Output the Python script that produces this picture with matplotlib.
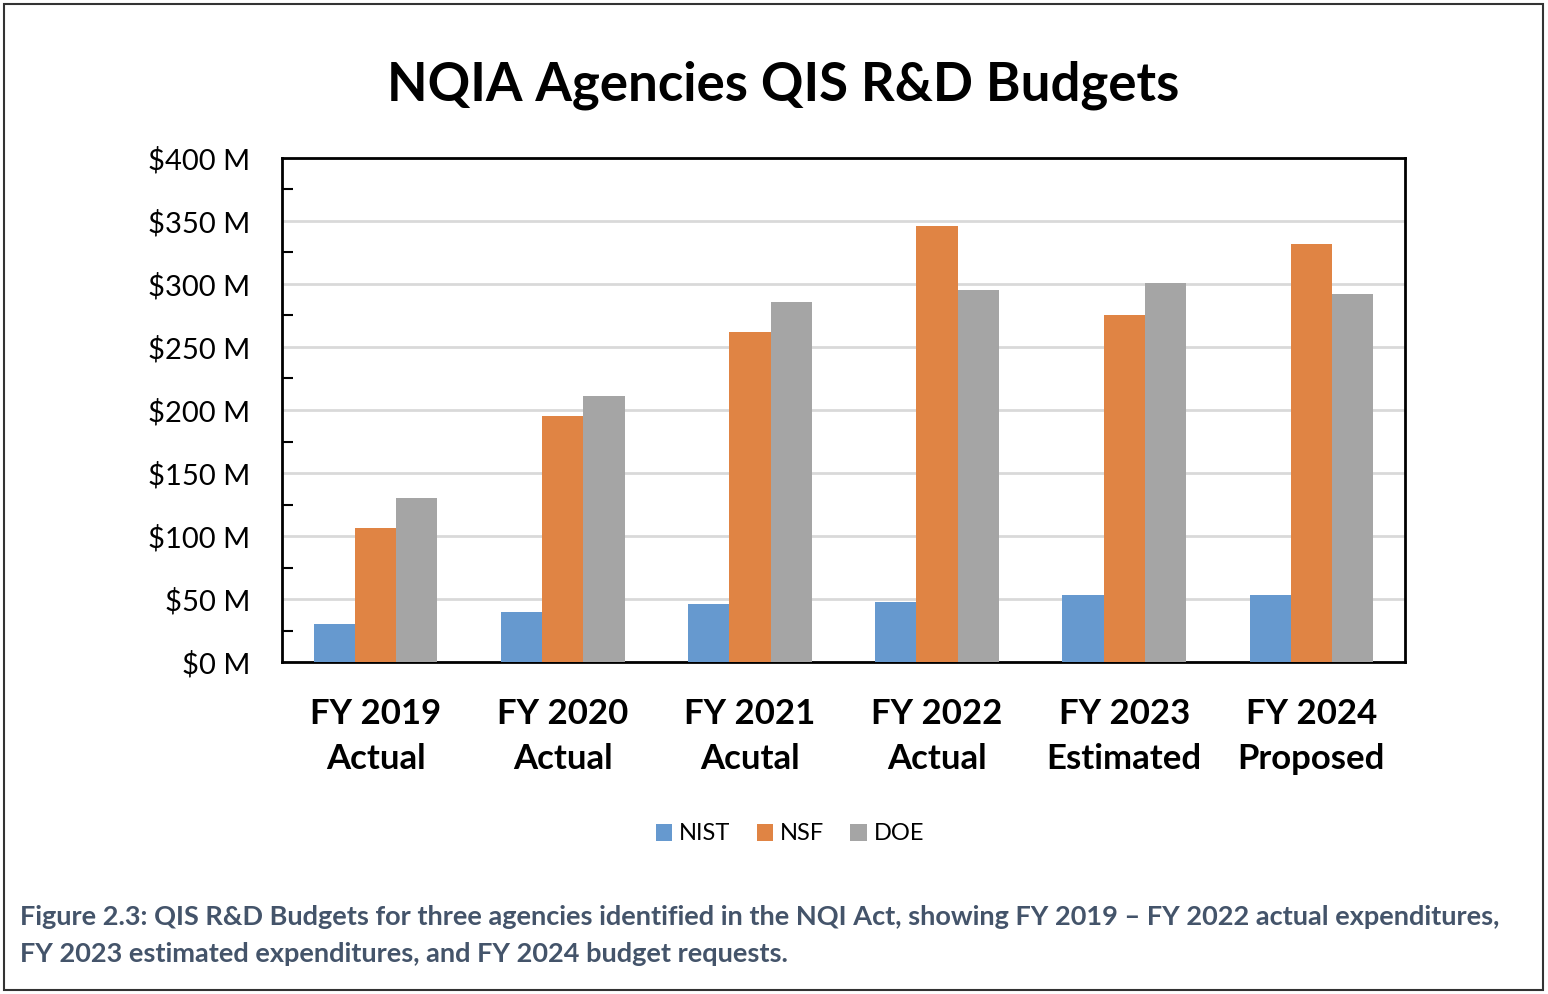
import numpy as np
import matplotlib
matplotlib.use('Agg')
import matplotlib.pyplot as plt
from matplotlib.ticker import MultipleLocator, FuncFormatter
from matplotlib.patches import Rectangle

plt.rcParams['font.family'] = ['Lato', 'DejaVu Sans']

categories = ['FY 2019\nActual', 'FY 2020\nActual', 'FY 2021\nAcutal',
              'FY 2022\nActual', 'FY 2023\nEstimated', 'FY 2024\nProposed']
nist = [30, 40, 46, 48, 53, 53]
nsf = [106, 195, 262, 346, 275, 332]
doe = [130, 211, 286, 295, 301, 292]

series = [('NIST', nist, '#6699CF'), ('NSF', nsf, '#E08444'), ('DOE', doe, '#A5A5A5')]

fig = plt.figure(figsize=(15.48, 9.94), dpi=100)
ax = fig.add_axes([282 / 1548, 1 - 662 / 994, (1405 - 282) / 1548, (662 - 158) / 994])

x = np.arange(len(categories))
w = 0.22
for i, (name, vals, color) in enumerate(series):
    ax.bar(x + (i - 1) * w, vals, width=w, color=color, label=name, zorder=3)

ax.set_xlim(-0.5, 5.5)
ax.set_ylim(0, 400)
ax.yaxis.set_major_locator(MultipleLocator(50))
ax.yaxis.set_minor_locator(MultipleLocator(25))
ax.yaxis.set_major_formatter(FuncFormatter(lambda v, p: f'${v:.0f} M'))
ax.grid(axis='y', which='major', color='#D9D9D9', linewidth=2, zorder=0)
ax.tick_params(axis='y', which='major', length=0, labelsize=21, pad=23)
ax.tick_params(axis='y', which='minor', direction='in', length=8, width=1.5)
ax.set_xticks(x)
ax.set_xticklabels(categories, fontsize=25, fontweight='bold', linespacing=1.5)
ax.tick_params(axis='x', length=0, pad=26)
for s in ax.spines.values():
    s.set_linewidth(2)
    s.set_color('black')

fig.text(783 / 1548, 1 - 85 / 994, 'NQIA Agencies QIS R&D Budgets',
         fontsize=38, fontweight='bold', ha='center', va='center')

fig.legend(loc='center', bbox_to_anchor=(790 / 1548, 1 - 834 / 994), ncol=3, frameon=False,
           fontsize=17, handlelength=0.7, handleheight=0.7, handletextpad=0.3, columnspacing=1.1)

fig.text(20 / 1548, 1 - 917 / 994,
         'Figure 2.3: QIS R&D Budgets for three agencies identified in the NQI Act, showing FY 2019 \u2013 FY 2022 actual expenditures,',
         fontsize=19.5, fontweight='bold', color='#44546A', va='center')
fig.text(20 / 1548, 1 - 954 / 994,
         'FY 2023 estimated expenditures, and FY 2024 budget requests.',
         fontsize=19.5, fontweight='bold', color='#44546A', va='center')

fig.patches.append(Rectangle((4 / 1548, 4 / 994), 1539 / 1548, 986 / 994, transform=fig.transFigure,
                             fill=False, edgecolor='#333333', linewidth=1.5))

fig.savefig('out.png', dpi=100)
